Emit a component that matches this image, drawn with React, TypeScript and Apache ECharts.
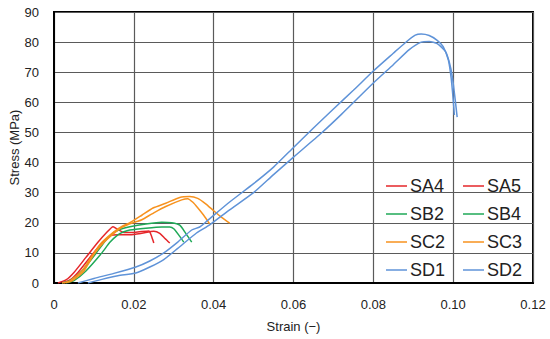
import React, { useEffect, useRef } from "react";
import * as echarts from "echarts";

const seriesNames = ["SA4", "SA5", "SB2", "SB4", "SC2", "SC3", "SD1", "SD2"];
const seriesColors = ["#e5262a", "#e5262a", "#1fa957", "#1fa957", "#f7921e", "#f7921e", "#5f93d8", "#5f93d8"];

const xTicks = [0, 0.02, 0.04, 0.06, 0.08, 0.1, 0.12];
const yTicks = [0, 10, 20, 30, 40, 50, 60, 70, 80, 90];

const SA4: number[][] = [[0.001,0],[0.003,1],[0.005,3.5],[0.008,8.5],[0.011,13.5],[0.013,16.5],[0.0148,18.7],[0.016,17.8],[0.0175,16.8],[0.02,16.8],[0.022,17.1],[0.0238,17.3],[0.0243,16],[0.0247,14.5],[0.025,13.3]];
const SA5: number[][] = [[0.002,0],[0.004,1],[0.006,3.5],[0.009,8.5],[0.012,13.3],[0.0143,15.8],[0.016,16],[0.019,16],[0.022,16.5],[0.025,17.2],[0.0265,16.5],[0.0278,14.8],[0.029,13.3]];
const SB2: number[][] = [[0.002,0],[0.004,0.8],[0.007,4],[0.0105,9.8],[0.013,14.2],[0.015,16.8],[0.017,18],[0.019,18.7],[0.023,19.6],[0.027,20.2],[0.0295,20],[0.0315,19.2],[0.033,16.5],[0.0345,13.6]];
const SB4: number[][] = [[0.003,0],[0.005,0.8],[0.008,4],[0.012,10],[0.014,13.5],[0.016,16],[0.0175,17],[0.019,17.6],[0.023,18.2],[0.027,18.6],[0.029,18.6],[0.03,18],[0.0315,15.5],[0.0325,13.6]];
const SC2: number[][] = [[0.002,0],[0.004,0.7],[0.007,4],[0.0095,9],[0.012,13.5],[0.015,17],[0.017,18.8],[0.019,20],[0.022,22.5],[0.0248,24.9],[0.028,26.5],[0.0315,28.4],[0.034,28.7],[0.036,28.1],[0.038,26.3],[0.04,24],[0.042,21.8],[0.044,19.9]];
const SC3: number[][] = [[0.0025,0],[0.0045,0.7],[0.0075,4],[0.01,9.5],[0.0125,13.5],[0.015,16.5],[0.017,18.5],[0.019,19.7],[0.021,20.5],[0.022,21],[0.025,23.3],[0.028,25.4],[0.032,27.6],[0.0335,28],[0.0348,26.8],[0.036,25],[0.0375,22.5],[0.039,19.6]];
const SD1: number[][] = [[0.006,0],[0.01,1.5],[0.015,3.2],[0.0205,5.3],[0.024,7.3],[0.0275,10],[0.031,13.6],[0.0345,17.6],[0.0365,18.6],[0.0385,20.8],[0.044,26.9],[0.05,33],[0.055,38.5],[0.06,45],[0.065,51.5],[0.07,57.8],[0.075,64],[0.08,70.4],[0.085,76.3],[0.088,79.8],[0.0905,82.3],[0.092,82.7],[0.094,82.2],[0.096,80.6],[0.0975,78.5],[0.0988,74],[0.0995,68],[0.1,61],[0.1003,55.8]];
const SD2: number[][] = [[0.0085,0],[0.012,1.2],[0.016,2.4],[0.0205,3.3],[0.024,5.3],[0.0275,7.8],[0.031,11.5],[0.0357,16.6],[0.039,19.3],[0.044,24.3],[0.05,30],[0.055,36],[0.06,41.8],[0.067,49.8],[0.072,56],[0.08,66.4],[0.085,72.5],[0.089,77.5],[0.092,80],[0.094,80.2],[0.096,79.5],[0.098,77],[0.099,73.5],[0.0998,68.4],[0.1005,61],[0.101,55.1]];

const seriesData = [SA4, SA5, SB2, SB4, SC2, SC3, SD1, SD2];

const FONT = "Liberation Sans, Arial, sans-serif";

export default function App() {
  const ref = useRef<HTMLDivElement>(null);
  useEffect(() => {
    if (!ref.current) return;
    const chart = echarts.init(ref.current, null, { renderer: "svg" });
    const legendCommon = {
      orient: "vertical",
      icon: "rect",
      itemWidth: 21,
      itemHeight: 1.5,
      itemGap: 8,
      top: 171,
      textStyle: { fontFamily: FONT, fontSize: 18, color: "#222", lineHeight: 20, padding: [0, 0, 0, -2] },
      selectedMode: false,
    };
    chart.setOption({
      animation: false,
      backgroundColor: "#fff",
      grid: {
        left: 54, right: 17, top: 12, bottom: 56, show: true, borderColor: "#000", borderWidth: 2,
        outerBoundsMode: "none", containLabel: false,
      },
      legend: [
        { ...legendCommon, left: 381, data: ["SA4", "SB2", "SC2", "SD1"] },
        { ...legendCommon, left: 458, data: ["SA5", "SB4", "SC3", "SD2"] },
      ],
      xAxis: {
        type: "value",
        min: xTicks[0],
        max: xTicks[xTicks.length - 1],
        interval: 0.02,
        name: "Strain (\u2212)",
        nameLocation: "middle",
        nameGap: 37,
        nameMoveOverlap: false,
        nameTextStyle: { fontFamily: FONT, fontSize: 13, color: "#222" },
        axisLine: { lineStyle: { color: "#000", width: 2 } },
        axisTick: { show: false },
        axisLabel: {
          fontFamily: FONT, fontSize: 13, color: "#222", margin: 15,
          formatter: (v: number) => (v === 0 ? "0" : v.toFixed(2)),
        },
        splitLine: { show: true, lineStyle: { color: "#5a5a5a", width: 1.2 } },
      },
      yAxis: {
        type: "value",
        min: yTicks[0],
        max: yTicks[yTicks.length - 1],
        interval: 10,
        name: "Stress (MPa)",
        nameLocation: "middle",
        nameGap: 33,
        nameMoveOverlap: false,
        nameTextStyle: { fontFamily: FONT, fontSize: 13, color: "#222" },
        axisLine: { show: true, lineStyle: { color: "#000", width: 2 } },
        axisTick: { show: false },
        axisLabel: { fontFamily: FONT, fontSize: 13, color: "#222", margin: 15 },
        splitLine: { show: true, lineStyle: { color: "#5a5a5a", width: 1.2 } },
      },
      series: seriesNames.map((name, i) => ({
        name,
        type: "line",
        data: seriesData[i],
        showSymbol: false,
        symbol: "none",
        smooth: 0.2,
        color: seriesColors[i],
        lineStyle: { color: seriesColors[i], width: 1.5 },
      })),
    });
    return () => chart.dispose();
  }, []);
  return <div ref={ref} style={{ width: 550, height: 339, position: "absolute", left: 0, top: 0 }} />;
}
